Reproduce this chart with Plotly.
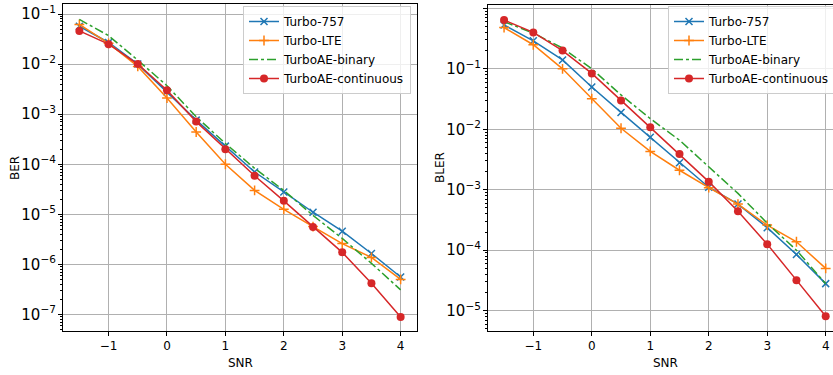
import plotly.graph_objects as go

snr = [-1.5, -1.0, -0.5, 0.0, 0.5, 1.0, 1.5, 2.0, 2.5, 3.0, 3.5, 4.0]

ber_turbo757 = [0.057, 0.027, 0.0100, 0.0028, 7.6e-4, 2.3e-4, 7.0e-5, 2.8e-5, 1.1e-5, 4.6e-6, 1.65e-6, 5.6e-7]
ber_turbolte = [0.062, 0.026, 0.0090, 0.0021, 4.4e-4, 1.0e-4, 3.0e-5, 1.26e-5, 5.7e-6, 2.6e-6, 1.38e-6, 5.0e-7]
ber_ae_binary = [0.078, 0.037, 0.0120, 0.0037, 8.9e-4, 2.6e-4, 8.3e-5, 3.0e-5, 9.5e-6, 3.3e-6, 1.05e-6, 3.1e-7]
ber_ae_cont = [0.046, 0.025, 0.0100, 0.0030, 7.1e-4, 2.0e-4, 5.9e-5, 1.86e-5, 5.6e-6, 1.74e-6, 4.2e-7, 8.9e-8]

bler_turbo757 = [0.53, 0.29, 0.14, 0.050, 0.019, 0.0074, 2.8e-3, 1.1e-3, 5.8e-4, 2.36e-4, 8.5e-5, 2.8e-5]
bler_turbolte = [0.48, 0.25, 0.10, 0.032, 0.0104, 4.3e-3, 2.1e-3, 1.08e-3, 5.8e-4, 2.6e-4, 1.38e-4, 5.0e-5]
bler_ae_binary = [0.60, 0.39, 0.22, 0.10, 0.037, 0.015, 6.6e-3, 2.4e-3, 8.7e-4, 2.8e-4, 1.0e-4, 2.8e-5]
bler_ae_cont = [0.64, 0.40, 0.20, 0.084, 0.030, 0.0108, 3.9e-3, 1.36e-3, 4.4e-4, 1.26e-4, 3.2e-5, 8.1e-6]

series_names = ["Turbo-757", "Turbo-LTE", "TurboAE-binary", "TurboAE-continuous"]
colors = ["#1f77b4", "#ff7f0e", "#2ca02c", "#d62728"]
x_title = "SNR"
y_titles = ["BER", "BLER"]

W, H = 833, 375
FONT = "DejaVu Sans"

fig = go.Figure()

def add_set(values, xa, ya, legend):
    styles = [
        dict(mode="lines+markers", marker=dict(symbol="x-thin", size=7, line=dict(width=1.5, color=colors[0])), line=dict(color=colors[0], width=1.5)),
        dict(mode="lines+markers", marker=dict(symbol="cross-thin", size=7, line=dict(width=1.5, color=colors[1])), line=dict(color=colors[1], width=1.5)),
        dict(mode="lines", line=dict(color=colors[2], width=1.5, dash="dashdot")),
        dict(mode="lines+markers", marker=dict(symbol="circle", size=8, color=colors[3]), line=dict(color=colors[3], width=1.5)),
    ]
    for name, vals, st in zip(series_names, values, styles):
        fig.add_trace(go.Scatter(x=snr, y=vals, name=name, xaxis=xa, yaxis=ya,
                                 legend=legend, showlegend=True, **st))

add_set([ber_turbo757, ber_turbolte, ber_ae_binary, ber_ae_cont], "x", "y", "legend")
add_set([bler_turbo757, bler_turbolte, bler_ae_binary, bler_ae_cont], "x2", "y2", "legend2")

grid = "#b0b0b0"
tfont = dict(family=FONT, size=12, color="black")
common_x = dict(showline=True, linecolor="black", linewidth=1, ticks="outside", ticklen=4,
                tickcolor="black", dtick=1, tick0=0, showgrid=True, gridcolor=grid, gridwidth=0.8,
                zeroline=False, tickfont=tfont, automargin=False)
common_y = dict(type="log", showline=True, linecolor="black", linewidth=1, ticks="outside", ticklen=4,
                tickcolor="black", dtick=1, exponentformat="power", showgrid=True, gridcolor=grid,
                gridwidth=0.8, zeroline=False, tickfont=tfont, automargin=False,
                minor=dict(ticks="outside", ticklen=2, tickcolor="black", dtick="D1", showgrid=False))

fig.update_layout(
    width=W, height=H,
    margin=dict(l=0, r=0, t=0, b=0, autoexpand=False),
    paper_bgcolor="white", plot_bgcolor="white",
    font=dict(family=FONT, size=12, color="black"),
    xaxis=dict(domain=[63.3 / W, 416.7 / W], range=[-1.775, 4.275], mirror=True, anchor="y", **common_x),
    yaxis=dict(domain=[1 - 331 / H, 1 - 4 / H], range=[-7.33, -0.8], mirror=True, anchor="x", **common_y),
    xaxis2=dict(domain=[488.3 / W, 1.0], range=[-1.7695, 4.125], mirror=True, anchor="y2", **common_x),
    yaxis2=dict(domain=[1 - 331 / H, 1 - 5 / H], range=[-5.336, 0.055], mirror=False, anchor="x2", **common_y),
    legend=dict(x=243 / W, y=1 - 6 / H, xanchor="left", yanchor="top", bgcolor="rgba(255,255,255,0.8)",
                bordercolor="#cccccc", borderwidth=1, font=tfont, tracegroupgap=0),
    legend2=dict(x=668 / W, y=1 - 6 / H, xanchor="left", yanchor="top", bgcolor="rgba(255,255,255,0.8)",
                 bordercolor="#cccccc", borderwidth=1, font=tfont, tracegroupgap=0),
)

# axis titles placed as annotations in paper pixels
for xc in [240 / W, 665 / W]:
    fig.add_annotation(text=x_title, x=xc, y=1 - 362.5 / H, xref="paper", yref="paper",
                       xanchor="center", yanchor="middle", showarrow=False, font=tfont)
for xc, t in zip([15 / W, 440 / W], y_titles):
    fig.add_annotation(text=t, x=xc, y=1 - 168 / H, xref="paper", yref="paper", textangle=-90,
                       xanchor="center", yanchor="middle", showarrow=False, font=tfont)

fig.write_html("out.html", config={"displayModeBar": False},
               post_script="document.body.style.margin='0';document.body.style.overflow='hidden';")
